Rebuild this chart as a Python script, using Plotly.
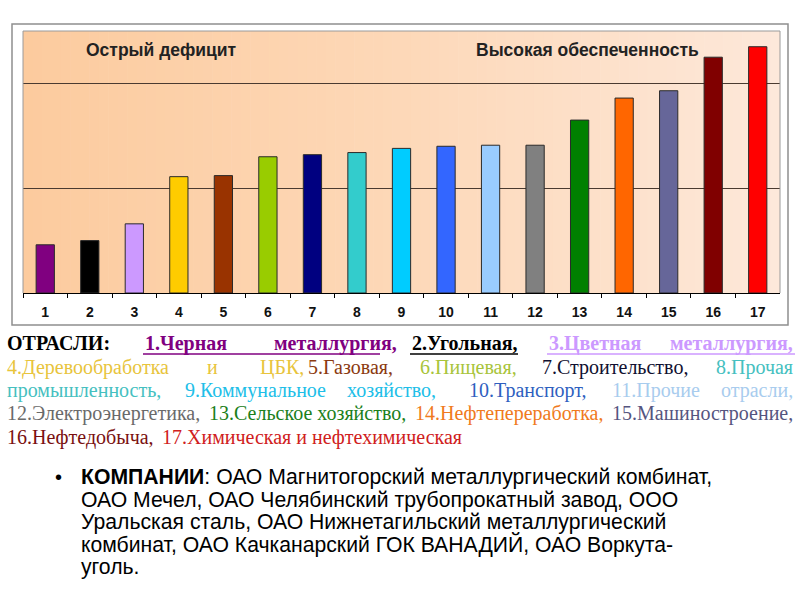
import plotly.graph_objects as go

# ---------------- data ----------------
categories = [str(i) for i in range(1, 18)]
values = [0.46, 0.50, 0.66, 1.11, 1.12, 1.30, 1.32, 1.34, 1.38, 1.40, 1.41, 1.41,
          1.65, 1.86, 1.93, 2.25, 2.35]
bar_colors = ["#800080", "#000000", "#CC99FF", "#FFCC00", "#993300", "#99CC00",
              "#000080", "#33CCCC", "#00CCFF", "#3366FF", "#99CCFF", "#808080",
              "#008000", "#FF6600", "#666699", "#800000", "#FF0000"]
label_low = "Острый дефицит"
label_high = "Высокая обеспеченность"

W, H = 800, 600


def px(x):
    return x / W


def py(y):
    return 1 - y / H


# plot area in pixels
PL, PR, PT, PB = 23, 780, 31, 293

fig = go.Figure()
fig.add_trace(go.Bar(
    x=categories, y=values,
    marker=dict(color=bar_colors, line=dict(color="#2a2a2a", width=1)),
    width=0.41, hoverinfo="x+y",
))

shapes = []
# gradient background (strips)
stops = [(0.0, (252, 203, 158)), (0.5, (253, 216, 184)), (1.0, (253, 232, 218))]


def col_at(t):
    for (t0, c0), (t1, c1) in zip(stops[:-1], stops[1:]):
        if t <= t1:
            f = (t - t0) / (t1 - t0)
            return tuple(round(a + (b - a) * f) for a, b in zip(c0, c1))
    return stops[-1][1]


N = 80
for i in range(N):
    x0 = PL + (PR - PL) * i / N
    x1 = PL + (PR - PL) * (i + 1) / N + 0.6
    c = col_at((i + 0.5) / N)
    shapes.append(dict(type="rect", xref="paper", yref="paper", layer="below",
                       x0=px(x0), x1=px(min(x1, PR)), y0=py(PB), y1=py(PT),
                       line=dict(width=0), fillcolor="rgb(%d,%d,%d)" % c))
# outer chart border
shapes.append(dict(type="rect", xref="paper", yref="paper", layer="above",
                   x0=px(12), x1=px(788), y0=py(325), y1=py(24),
                   line=dict(color="#8f8f8f", width=1.5)))
# plot-area border (top/left/right)
shapes.append(dict(type="path", xref="paper", yref="paper", layer="above",
                   path="M %f %f L %f %f L %f %f L %f %f" % (
                       px(PL), py(PB), px(PL), py(PT), px(PR), py(PT), px(PR), py(PB)),
                   line=dict(color="#9a9a9a", width=1)))


def ann(text, x, y, color, size, family, anchor="left"):
    return dict(text=text, x=px(x), y=py(y), xref="paper", yref="paper",
                xanchor=anchor, yanchor="middle", showarrow=False,
                font=dict(family=family, size=size, color=color))


annotations = [
    ann("<b>%s</b>" % label_low, 84, 50, "#222222", 17.5, "Arial"),
    ann("<b>%s</b>" % label_high, 474, 50, "#222222", 17.5, "Arial"),
]

# ---------------- sector legend text ----------------
SERIF = "Liberation Serif, Times New Roman, serif"
FS = 20
lines = [
    (343, True, [("ОТРАСЛИ:", 5, "#000000", "l"), ("1.Черная", 143, "#800080", "l"),
                 ("металлургия,", 272, "#800080", "l"), ("2.Угольная,", 410, "#000000", "l"),
                 ("3.Цветная", 547, "#CC99FF", "l"), ("металлургия,", 795, "#CC99FF", "r")]),
    (367, False, [("4.Деревообработка", 5, "#E8C43C", "l"), ("и", 205, "#E8C43C", "l"),
                  ("ЦБК,", 258, "#E8C43C", "l"), ("5.Газовая,", 306, "#8B3A10", "l"),
                  ("6.Пищевая,", 418, "#A8C43A", "l"), ("7.Строительство,", 540, "#101030", "l"),
                  ("8.Прочая", 795, "#45C0C0", "r")]),
    (390, False, [("промышленность,", 5, "#45C0C0", "l"), ("9.Коммунальное", 183, "#20BEE8", "l"),
                  ("хозяйство,", 345, "#20BEE8", "l"), ("10.Транспорт,", 467, "#2F5FBF", "l"),
                  ("11.Прочие", 610, "#A8CCEE", "l"), ("отрасли,", 795, "#A8CCEE", "r")]),
    (413, False, [("12.Электроэнергетика,", 5, "#6a6a6a", "l"),
                  ("13.Сельское хозяйство,", 207, "#1A801A", "l"),
                  ("14.Нефтепереработка,", 413, "#F07A20", "l"),
                  ("15.Машиностроение,", 795, "#55557F", "r")]),
    (437, False, [("16.Нефтедобыча,", 5, "#7A1010", "l"),
                  ("17.Химическая и нефтехимическая", 160, "#D02020", "l")]),
]
for y, bold, segs in lines:
    for txt, x, c, a in segs:
        t = "<b>%s</b>" % txt if bold else txt
        annotations.append(ann(t, x, y, c, FS, SERIF, "left" if a == "l" else "right"))
# underlines on the first line
for x0, x1, c in [(143, 380, "#800080"), (410, 518, "#000000"), (547, 795, "#CC99FF")]:
    shapes.append(dict(type="line", xref="paper", yref="paper", x0=px(x0), x1=px(x1),
                       y0=py(354), y1=py(354), line=dict(color=c, width=1.5)))

# ---------------- companies text ----------------
SANS = "Liberation Sans, Arial, sans-serif"
comp_lines = [
    "<b>КОМПАНИИ</b>: ОАО Магнитогорский металлургический комбинат,",
    "ОАО Мечел, ОАО Челябинский трубопрокатный завод, ООО",
    "Уральская сталь, ОАО Нижнетагильский металлургический",
    "комбинат, ОАО Качканарский ГОК ВАНАДИЙ, ОАО Воркута-",
    "уголь.",
]
comp_y = [477, 499.5, 522, 544.5, 567]
annotations.append(ann("•", 53, 477, "#000000", 20, SANS))
for t, y in zip(comp_lines, comp_y):
    annotations.append(ann(t, 79, y, "#000000", 21.2, SANS))

fig.update_layout(
    width=W, height=H, margin=dict(l=0, r=0, t=0, b=0),
    paper_bgcolor="white", plot_bgcolor="rgba(0,0,0,0)",
    showlegend=False, shapes=shapes, annotations=annotations,
    xaxis=dict(domain=[px(PL), px(PR)], type="category", tickson="boundaries",
               ticks="outside", ticklen=4, tickcolor="#000000", tickwidth=1,
               showline=True, linecolor="#000000", linewidth=1,
               tickfont=dict(family="Arial", size=14, color="#111111"),
               ticklabelstandoff=6, showgrid=False, fixedrange=True,
               tickvals=categories, ticktext=["<b>%s</b>" % c for c in categories]),
    yaxis=dict(domain=[py(PB), py(PT)], range=[0, 2.5], dtick=1, showticklabels=False,
               showgrid=True, gridcolor="#4a3a30", gridwidth=1, zeroline=False,
               showline=False, fixedrange=True),
)

fig.write_html("out.html", config={"displayModeBar": False},
               post_script="document.body.style.margin='0';")
